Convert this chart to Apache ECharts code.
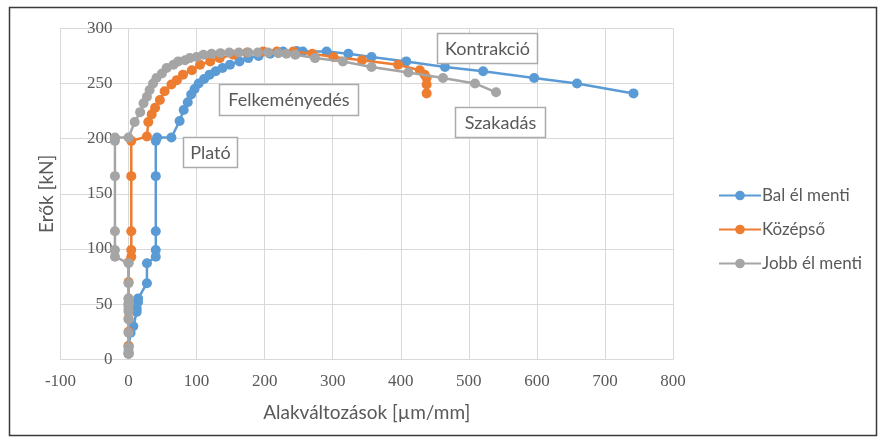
<!DOCTYPE html>
<html>
<head>
<meta charset="utf-8">
<script src="https://cdn.jsdelivr.net/npm/echarts@6/dist/echarts.min.js"></script>
<style>
  html, body { margin: 0; padding: 0; background: #fff; }
  #chart { width: 882px; height: 441px; }
</style>
</head>
<body>
<div id="chart"></div>
<script>
// Strain (µm/mm) vs. force (kN) readings, one list of [strain, force] pairs per gauge line
const seriesNames = ['Bal él menti', 'Középső', 'Jobb él menti'];

const balElMenti = [
  [0, 5], [0, 12], [3, 24], [7, 30], [12, 43], [12, 46], [14, 52], [14, 55],
  [27, 69], [27, 87], [40, 93], [40, 99], [40, 116], [40, 166], [40, 198], [42, 201],
  [63, 201], [75, 216], [81, 226], [87, 233], [92, 240], [97, 245], [103, 250],
  [111, 254], [119, 258], [128, 261], [138, 264], [149, 267], [163, 270], [176, 273],
  [191, 275], [208, 277], [227, 279], [247, 279.5], [256, 279], [291, 279], [323, 277],
  [357, 274], [408, 270], [465, 265], [521, 261], [596, 255], [659, 250], [742, 241]
];

const kozepso = [
  [0, 5], [0, 12], [0, 25], [0, 37], [0, 45], [0, 50], [0, 55], [0, 70], [0, 88],
  [4, 93], [4, 99], [4, 116], [4, 166], [4, 198], [27, 202], [29, 215], [34, 222],
  [39, 228], [46, 235], [53, 243], [63, 249], [71, 253], [80, 258], [93, 262],
  [105, 267], [120, 270], [134, 273], [154, 276], [174, 278], [198, 279], [218, 279],
  [242, 279], [270, 277], [301, 274], [343, 271], [396, 267], [428, 262], [435, 258],
  [438, 255], [438, 249], [438, 241]
];

const jobbElMenti = [
  [0, 5], [0, 8], [0, 11], [0, 24], [0, 36], [0, 43], [0, 48], [0, 51], [0, 55],
  [0, 69], [0, 87], [-20, 93], [-20, 99], [-20, 116], [-20, 166], [-20, 198], [-20, 201],
  [0, 201], [9, 215], [17, 224], [22, 232], [27, 238], [31, 244], [36, 250], [41, 255],
  [49, 259], [56, 264], [66, 267], [73, 270], [83, 271], [90, 273], [100, 274],
  [110, 276], [122, 277], [135, 277.5], [148, 278], [162, 278], [176, 278], [190, 278],
  [205, 278], [220, 277.5], [232, 277], [245, 276], [274, 273], [315, 270], [357, 265],
  [411, 260], [462, 255], [509, 250], [540, 242]
];

const seriesData = [balElMenti, kozepso, jobbElMenti];
const seriesColors = ['#5B9BD5', '#ED7D31', '#A5A5A5'];

// Phase annotations placed on the plot
const phaseLabels = ['Kontrakció', 'Szakadás', 'Felkeményedés', 'Plató'];
const phaseBoxes = [
  { x: 437, y: 33, w: 100, h: 30 },
  { x: 455, y: 107, w: 90, h: 30 },
  { x: 219, y: 84, w: 139, h: 31 },
  { x: 183, y: 137, w: 54, h: 30 }
];

const xTicks = { min: -100, max: 800, interval: 100 };
const yTicks = { min: 0, max: 300, interval: 50 };

const textColor = '#595959';
const gridColor = '#D9D9D9';
const sansFont = 'Lato';
const serifFont = 'Liberation Serif';

// plot area in pixels
const plot = { left: 60.5, right: 209, top: 28.3, bottom: 81.7 };
const plotWidth = 882 - plot.left - plot.right;
// the vertical axis crosses the horizontal one at strain 0
const yAxisShift = -plotWidth * (0 - xTicks.min) / (xTicks.max - xTicks.min);

const chart = echarts.init(document.getElementById('chart'), null, { renderer: 'canvas' });

const graphics = [
  {
    type: 'rect',
    shape: { x: 9.5, y: 7.5, width: 867, height: 428 },
    style: { fill: 'none', stroke: '#3a3a3a', lineWidth: 1.5 },
    silent: true,
    z: 100
  }
];
phaseLabels.forEach((label, i) => {
  const b = phaseBoxes[i];
  graphics.push({
    type: 'rect',
    shape: { x: b.x + 0.5, y: b.y + 0.5, width: b.w, height: b.h },
    style: { fill: '#ffffff', stroke: '#ABABAB', lineWidth: 1.5 },
    z: 50
  });
  graphics.push({
    type: 'text',
    x: b.x + b.w / 2 + 0.5,
    y: b.y + b.h / 2 + 1,
    style: {
      text: label,
      fill: textColor,
      font: '18px ' + sansFont,
      align: 'center',
      verticalAlign: 'middle'
    },
    z: 51
  });
});

chart.setOption({
  animation: false,
  backgroundColor: '#ffffff',
  grid: {
    left: plot.left, right: plot.right, top: plot.top, bottom: plot.bottom,
    containLabel: false, outerBoundsMode: 'none'
  },
  legend: {
    orient: 'vertical',
    left: 713,
    top: 182,
    itemWidth: 42,
    itemHeight: 12,
    itemGap: 17,
    data: seriesNames,
    textStyle: { color: textColor, fontFamily: sansFont, fontSize: 17, padding: [0, 0, 0, -4] }
  },
  xAxis: {
    type: 'value',
    min: xTicks.min,
    max: xTicks.max,
    interval: xTicks.interval,
    name: 'Alakváltozások [µm/mm]',
    nameLocation: 'middle',
    nameGap: 44,
    nameTextStyle: { color: textColor, fontFamily: sansFont, fontSize: 19 },
    axisLine: { show: true, onZero: false, lineStyle: { color: gridColor, width: 1 } },
    axisTick: { show: false },
    axisLabel: { color: textColor, fontFamily: serifFont, fontSize: 17, margin: 14 },
    splitLine: { show: true, lineStyle: { color: gridColor, width: 1 } }
  },
  yAxis: {
    type: 'value',
    position: 'left',
    offset: yAxisShift,
    min: yTicks.min,
    max: yTicks.max,
    interval: yTicks.interval,
    name: 'Erők [kN]',
    nameLocation: 'middle',
    nameGap: 72,
    nameRotate: 90,
    nameTextStyle: { color: textColor, fontFamily: sansFont, fontSize: 19 },
    axisLine: { show: false, onZero: false },
    axisTick: { show: false },
    axisLabel: { color: textColor, fontFamily: serifFont, fontSize: 17, margin: 16 },
    splitLine: { show: true, lineStyle: { color: gridColor, width: 1 } }
  },
  series: seriesNames.map((name, i) => ({
    name: name,
    type: 'line',
    data: seriesData[i],
    color: seriesColors[i],
    symbol: 'circle',
    symbolSize: 10,
    showAllSymbol: true,
    lineStyle: { width: 2.5, color: seriesColors[i] },
    itemStyle: { color: seriesColors[i] },
    z: 10 + i
  })),
  graphic: graphics
});
</script>
</body>
</html>
